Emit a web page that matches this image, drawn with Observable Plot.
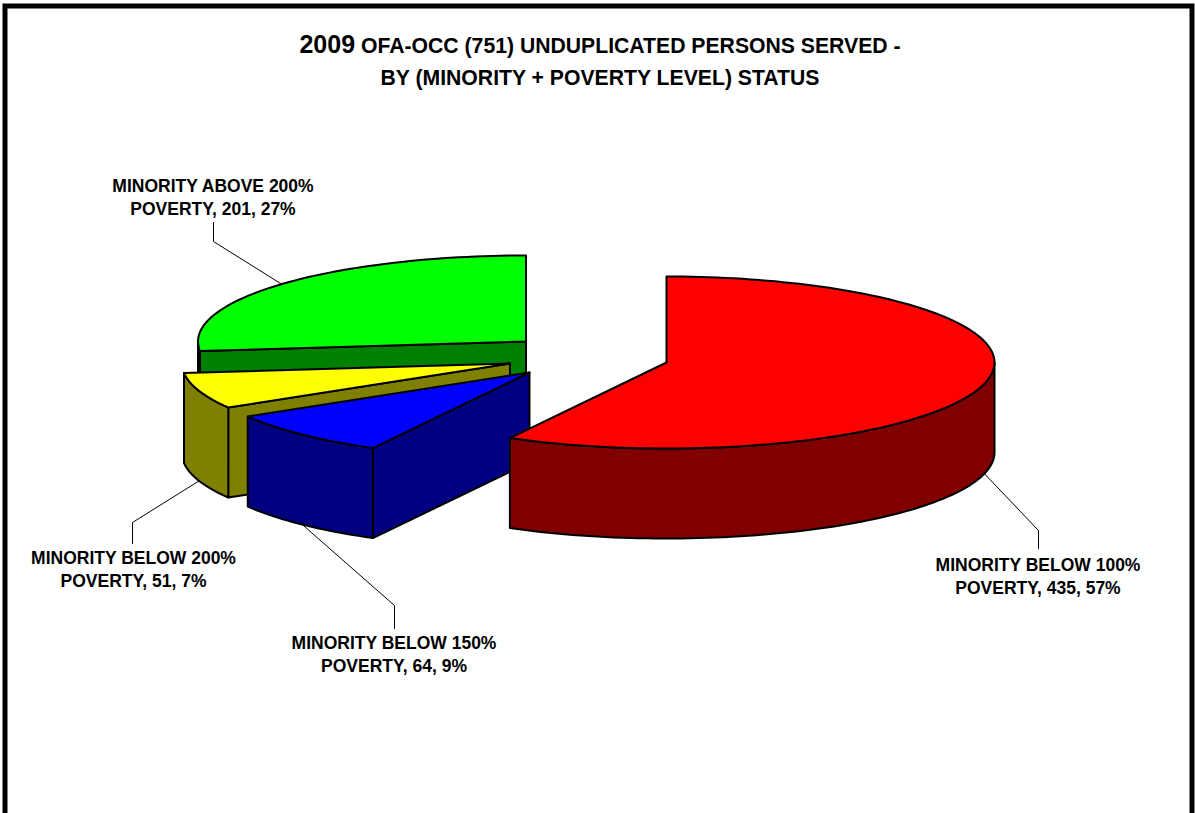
<!DOCTYPE html>
<html>
<head>
<meta charset="utf-8">
<script src="https://cdn.jsdelivr.net/npm/d3@7"></script>
<script src="https://cdn.jsdelivr.net/npm/@observablehq/plot@0.6"></script>
<style>
  html, body { margin: 0; padding: 0; background: #fff; overflow: hidden; }
  #chart { position: relative; width: 1195px; height: 813px; }
  #chart svg { display: block; position: absolute; left: 0; top: 0; }
  #title {
    position: absolute; left: 0; top: 28px; width: 1200px; text-align: center;
    font: bold 21.2px/32px "Liberation Sans", Arial, sans-serif; color: #000; z-index: 2;
  }
  #title .year { font-size: 25px; }
</style>
</head>
<body>
<div id="chart">
  <div id="title"><span class="year">2009</span> OFA-OCC (751) UNDUPLICATED PERSONS SERVED -<br>BY (MINORITY + POVERTY LEVEL) STATUS</div>
</div>
<script>
// Persons served by status, clockwise from twelve o'clock
const categories = ["MINORITY BELOW 100%", "MINORITY BELOW 150%", "MINORITY BELOW 200%", "MINORITY ABOVE 200%"];
const counts = [435, 64, 51, 201];
const percents = [57, 9, 7, 27];
const topColors = ["#ff0000", "#0000ff", "#ffff00", "#00ff00"];
const sideColors = ["#800000", "#000080", "#808000", "#008000"];

// Exploded pie layout: where each wedge's apex sits, and its callout geometry
const apexX = [666, 529, 509.5, 525.5];
const apexY = [362, 372, 363, 341];
const elbowX = [1038, 394, 132, 213];
const elbowY = [530, 605, 522, 241];
const stubY = [548, 628, 543, 222];
const labelX = [1037.5, 393.5, 133, 212.5];
const labelY = [575, 652.5, 568, 195.5];

const rx = 328, ry = 86, depth = 90;
const total = d3.sum(counts);
const rad = (deg) => (deg * Math.PI) / 180;

// Projects an angle on the tilted pie onto the page, relative to an apex
const rim = (i, deg, drop = 0) => ({
  x: apexX[i] + rx * Math.sin(rad(deg)),
  y: apexY[i] - ry * Math.cos(rad(deg)) + drop
});
const arc = (i, from, to, drop = 0) => {
  const n = Math.max(1, Math.ceil(Math.abs(to - from) / 1.5));
  return d3.range(n + 1).map((k) => rim(i, from + ((to - from) * k) / n, drop));
};

// Cumulative start and end angle of each wedge
let running = 0;
const wedges = counts.map((c, i) => {
  const start = (running / total) * 360;
  running += c;
  return { i, start, end: (running / total) * 360 };
});

const edge = { stroke: "#000", strokeWidth: 2, strokeLinejoin: "round", curve: "linear-closed" };
const xy = { x: "x", y: "y" };
const pieMarks = [];

// Back to front: the wedges overlap, so the order of painting decides what shows
for (const { i, start, end } of [wedges[3], wedges[2], wedges[1], wedges[0]]) {
  const apex = { x: apexX[i], y: apexY[i] };
  if (start > 180) {
    const edgePoint = rim(i, start);
    pieMarks.push(Plot.line(
      [apex, edgePoint, rim(i, start, depth), { x: apex.x, y: apex.y + depth }],
      { ...xy, ...edge, fill: sideColors[i] }
    ));
  }
  const from = Math.max(start, 90), to = Math.min(end, 270);
  if (from < to) {
    pieMarks.push(Plot.line(
      [...arc(i, from, to), ...arc(i, to, from, depth)],
      { ...xy, ...edge, fill: sideColors[i] }
    ));
  }
  pieMarks.push(Plot.line(
    [apex, ...arc(i, start, end)],
    { ...xy, ...edge, fill: topColors[i] }
  ));
}

// Callouts run from the middle of each wedge's rim to its label
const leaders = wedges.flatMap(({ i, start, end }) => {
  const mid = (start + end) / 2;
  const front = mid > 90 && mid < 270;
  const anchor = rim(i, mid, front ? depth : 0);
  return [anchor, { x: elbowX[i], y: elbowY[i] }, { x: elbowX[i], y: stubY[i] }].map((p) => ({ ...p, i }));
});

const labels = categories.map((name, i) => ({
  x: labelX[i],
  y: labelY[i],
  text: `${name}\nPOVERTY, ${counts[i]}, ${percents[i]}%`
}));

const plot = Plot.plot({
  width: 1195,
  height: 813,
  margin: 0,
  x: { domain: [0, 1195], range: [0, 1195], axis: null },
  y: { domain: [0, 813], range: [0, 813], axis: null },
  style: { background: "#fff" },
  marks: [
    Plot.frame({
      stroke: "#000", strokeWidth: 5,
      insetLeft: 4.5, insetTop: 5.5, insetRight: 3.5, insetBottom: -20
    }),
    Plot.line(leaders, { ...xy, z: "i", stroke: "#000", strokeWidth: 1 }),
    ...pieMarks,
    Plot.text(labels, {
      ...xy,
      text: "text",
      fontFamily: "Liberation Sans, Arial, sans-serif",
      fontWeight: "bold",
      fontSize: 17.5,
      lineHeight: 1.31,
      fill: "#000",
      textAnchor: "middle",
      lineAnchor: "middle"
    })
  ]
});

document.getElementById("chart").appendChild(plot);
</script>
</body>
</html>
